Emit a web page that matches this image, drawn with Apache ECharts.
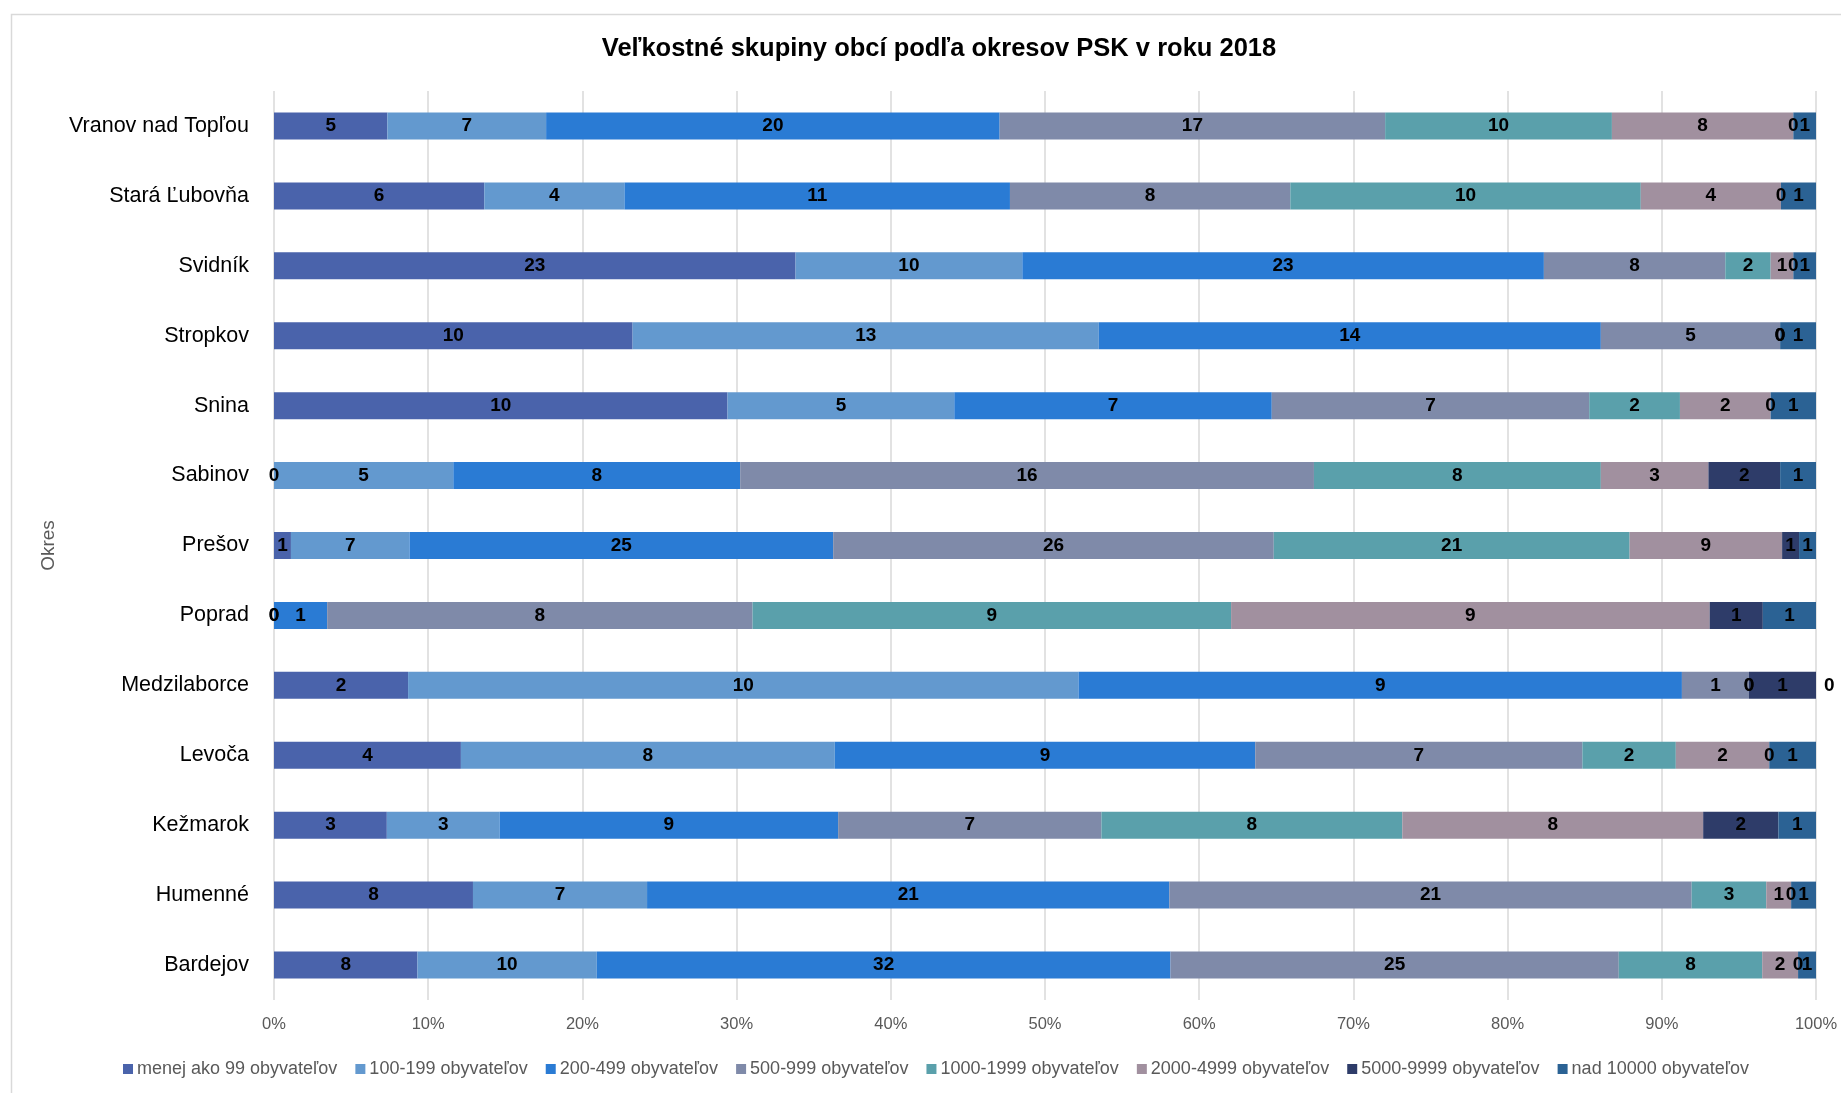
<!DOCTYPE html>
<html>
<head>
<meta charset="utf-8">
<title>Veľkostné skupiny obcí podľa okresov PSK v roku 2018</title>
<script src="https://cdn.jsdelivr.net/npm/echarts@6/dist/echarts.min.js"></script>
<style>
  html, body { margin: 0; padding: 0; background: #fff; }
  #chart { width: 1841px; height: 1093px; }
</style>
</head>
<body>
<div id="chart"></div>
<script>
// Districts, listed bottom to top
const okresy = ['Bardejov', 'Humenné', 'Kežmarok', 'Levoča', 'Medzilaborce', 'Poprad', 'Prešov',
  'Sabinov', 'Snina', 'Stropkov', 'Svidník', 'Stará Ľubovňa', 'Vranov nad Topľou'];

// Size groups (number of municipalities by population)
const skupiny = ['menej ako 99 obyvateľov', '100-199 obyvateľov', '200-499 obyvateľov', '500-999 obyvateľov',
  '1000-1999 obyvateľov', '2000-4999 obyvateľov', '5000-9999 obyvateľov', 'nad 10000 obyvateľov'];

// Counts per district, same order as okresy
const menejAko99  = [8, 8, 3, 4, 2, 0, 1, 0, 10, 10, 23, 6, 5];
const od100do199  = [10, 7, 3, 8, 10, 0, 7, 5, 5, 13, 10, 4, 7];
const od200do499  = [32, 21, 9, 9, 9, 1, 25, 8, 7, 14, 23, 11, 20];
const od500do999  = [25, 21, 7, 7, 1, 8, 26, 16, 7, 5, 8, 8, 17];
const od1000do1999 = [8, 3, 8, 2, 0, 9, 21, 8, 2, 0, 2, 10, 10];
const od2000do4999 = [2, 1, 8, 2, 0, 9, 9, 3, 2, 0, 1, 4, 8];
const od5000do9999 = [0, 0, 2, 0, 1, 1, 1, 2, 0, 0, 0, 0, 0];
const nad10000    = [1, 1, 1, 1, 0, 1, 1, 1, 1, 1, 1, 1, 1];

const percentTicks = ['0%', '10%', '20%', '30%', '40%', '50%', '60%', '70%', '80%', '90%', '100%'];

const counts = [menejAko99, od100do199, od200do499, od500do999, od1000do1999, od2000do4999, od5000do9999, nad10000];
const colors = ['#4a63ab', '#6399cf', '#2a7bd4', '#7f8aa9', '#5aa0ab', '#a1909f', '#2e3c69', '#2b6294'];

const totals = okresy.map((_, i) => counts.reduce((s, arr) => s + arr[i], 0));
const FONT = '"Liberation Sans", Arial, sans-serif';

const series = counts.map((arr, si) => ({
  name: skupiny[si],
  type: 'bar',
  stack: 'spolu',
  barWidth: 27,
  itemStyle: { color: colors[si] },
  label: {
    show: true,
    position: 'inside',
    color: '#000',
    fontWeight: 'bold',
    fontSize: 19,
    fontFamily: FONT,
    formatter: p => String(arr[p.dataIndex])
  },
  data: arr.map((v, i) => {
    const item = { value: v / totals[i] * 100 };
    // a zero in the last group sits at the 100% edge; push its label outside
    if (v === 0 && si === counts.length - 1) item.label = { position: 'right', distance: 8 };
    return item;
  })
}));

const chart = echarts.init(document.getElementById('chart'), null, { renderer: 'canvas' });
chart.setOption({
  backgroundColor: '#fff',
  animation: false,
  graphic: [{
    type: 'rect',
    left: 9, top: 12,
    shape: { width: 1900, height: 1200 },
    style: { fill: 'none', stroke: '#d9d9d9', lineWidth: 1.5 },
    silent: true, z: -10
  }],
  title: {
    text: 'Veľkostné skupiny obcí podľa okresov PSK v roku 2018',
    left: 934,
    top: 31,
    textAlign: 'center',
    textStyle: { fontFamily: FONT, fontWeight: 'bold', fontSize: 25.5, color: '#000' }
  },
  legend: {
    data: skupiny,
    left: 118,
    top: 1055,
    itemWidth: 10,
    itemHeight: 10,
    itemGap: 18,
    icon: 'rect',
    textStyle: { fontFamily: FONT, fontSize: 18, color: '#595959', padding: [0, 0, 0, -1] }
  },
  grid: { left: 274, right: 25, top: 91, bottom: 93, containLabel: false },
  xAxis: {
    type: 'value',
    min: 0, max: 100, interval: 10,
    axisLine: { show: false },
    axisTick: { show: false },
    splitLine: { show: true, lineStyle: { color: '#d9d9d9', width: 1.5 } },
    axisLabel: {
      color: '#595959', fontSize: 16.5, fontFamily: FONT, margin: 16,
      formatter: v => percentTicks[Math.round(v / 10)]
    }
  },
  yAxis: {
    type: 'category',
    data: okresy,
    name: 'Okres',
    nameLocation: 'middle',
    nameRotate: 90,
    nameGap: 214,
    nameTextStyle: { color: '#595959', fontSize: 19, fontFamily: FONT },
    axisLine: { show: false },
    axisTick: { show: false },
    axisLabel: { color: '#000', fontSize: 21.5, fontFamily: FONT, margin: 25 }
  },
  series: series
});
</script>
</body>
</html>
